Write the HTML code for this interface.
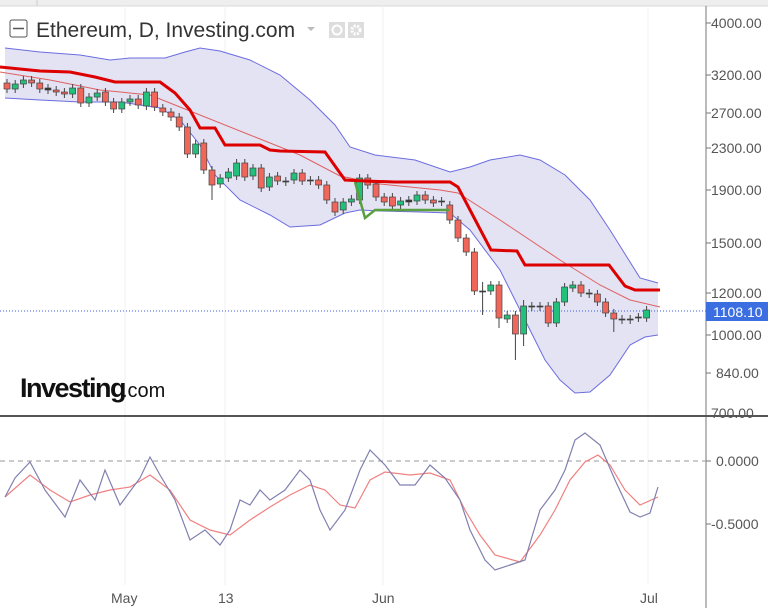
<!DOCTYPE html>
<html><head><meta charset="utf-8"><style>
body{margin:0;background:#fff;width:768px;height:608px;overflow:hidden;font-family:"Liberation Sans",sans-serif}
svg text{font-family:"Liberation Sans",sans-serif}
</style></head><body>
<svg id="s" width="768" height="608" viewBox="0 0 768 608" xmlns="http://www.w3.org/2000/svg">
<rect x="0" y="0" width="768" height="6" fill="#eeeeee"/>
<line x1="0" y1="6" x2="768" y2="6" stroke="#d8d8d8"/>
<line x1="37" y1="0" x2="37" y2="6" stroke="#ccc"/>
<g stroke="#f0f0f0">
<line x1="125" y1="6" x2="125" y2="585"/><line x1="225" y1="6" x2="225" y2="585"/>
<line x1="383" y1="6" x2="383" y2="585"/><line x1="648" y1="6" x2="648" y2="585"/>
</g>
<polygon id="band" fill="#e3e3f3" stroke="none"/>
<polyline id="up" fill="none" stroke="#6c6ce0" stroke-width="1"/>
<polyline id="lo" fill="none" stroke="#6c6ce0" stroke-width="1"/>
<polyline id="ma" fill="none" stroke="#e06060" stroke-width="1" points="0,72 50,80 100,90 150,95 200,115 250,135 300,155 340,176 380,184 440,190 458,193 500,220 560,260 600,285 630,300 660,307"/>
<line x1="0" y1="311" x2="706" y2="311" stroke="#3a5ee0" stroke-dasharray="1,2"/>
<g id="c"></g>
<polyline fill="none" stroke="#5aa040" stroke-width="2.5" points="355,182 365,218 375,210 400,210 449,210"/>
<polyline fill="none" stroke="#dd0000" stroke-width="3" points="0,67 40,71 70,72 95,77 115,82 160,82 175,93 190,110 200,128 215,128 225,145 260,145 270,150 280,151 325,152 345,180 365,181 395,182 450,182 458,187 491,250 517,251 525,265 609,265 625,286 635,290 660,290"/>
<rect x="10" y="20" width="17" height="17" fill="#fff" stroke="#555" rx="2"/>
<line x1="13" y1="28.5" x2="24" y2="28.5" stroke="#555" stroke-width="1.5"/>
<text x="36" y="37" font-size="21" fill="#333">Ethereum, D, Investing.com</text>
<polygon points="307,27 315,27 311,31" fill="#bbb"/>
<rect x="329" y="22" width="16" height="16" fill="#ddd"/><circle cx="337" cy="30" r="4.5" fill="none" stroke="#fff" stroke-width="2"/>
<rect x="348" y="22" width="16" height="16" fill="#ddd"/><circle cx="356" cy="30" r="4" fill="none" stroke="#fff" stroke-width="3" stroke-dasharray="2,1.3"/>
<text x="20" y="397" font-size="27" font-weight="bold" fill="#111" letter-spacing="-1.5">Investing</text>
<text x="122" y="397" font-size="20" fill="#111">.com</text>
<line x1="706" y1="6" x2="706" y2="608" stroke="#777"/>
<line x1="0" y1="416" x2="768" y2="416" stroke="#555" stroke-width="2"/>
<g font-size="14" fill="#555">
<text x="711" y="28">4000.00</text><text x="711" y="80">3200.00</text><text x="711" y="118">2700.00</text>
<text x="711" y="153">2300.00</text><text x="711" y="195">1900.00</text><text x="711" y="248">1500.00</text>
<text x="711" y="298">1200.00</text><text x="711" y="340">1000.00</text><text x="716" y="378">840.00</text>
<text x="711" y="418">700.00</text>
<text x="716" y="466">0.0000</text><text x="711" y="529">-0.5000</text>
<text x="111" y="603">May</text><text x="218" y="603">13</text><text x="372" y="603">Jun</text><text x="640" y="603">Jul</text>
</g>
<g stroke="#777"><line x1="706" y1="23" x2="711" y2="23"/><line x1="706" y1="75" x2="711" y2="75"/><line x1="706" y1="113" x2="711" y2="113"/><line x1="706" y1="148" x2="711" y2="148"/><line x1="706" y1="190" x2="711" y2="190"/><line x1="706" y1="243" x2="711" y2="243"/><line x1="706" y1="293" x2="711" y2="293"/><line x1="706" y1="335" x2="711" y2="335"/><line x1="706" y1="373" x2="711" y2="373"/><line x1="706" y1="461" x2="711" y2="461"/><line x1="706" y1="524" x2="711" y2="524"/></g>
<rect x="706" y="302" width="62" height="19" fill="#3b6ee0"/>
<text x="713" y="317" font-size="14" fill="#fff">1108.10</text>
<line x1="0" y1="461" x2="706" y2="461" stroke="#999" stroke-dasharray="5,4"/>
<polyline fill="none" stroke="#f08080" stroke-width="1.2" points="5,497 30,475 50,490 70,502 90,495 110,490 130,487 150,475 170,490 190,520 210,530 230,535 250,520 270,507 290,495 310,485 325,490 340,505 355,508 370,480 385,472 410,475 430,473 450,480 465,510 480,535 495,555 520,562 540,535 555,510 570,480 585,462 598,455 610,465 625,490 640,505 658,497"/>
<polyline fill="none" stroke="#8080b0" stroke-width="1.2" points="5,497 15,478 30,462 45,490 65,517 80,480 95,500 105,470 120,505 140,478 150,457 160,475 175,500 190,540 205,530 220,545 230,530 240,500 250,505 260,490 270,500 285,490 300,470 310,480 320,510 330,530 345,510 360,470 370,450 385,465 400,485 415,485 430,465 445,478 460,500 470,530 485,560 495,570 510,565 525,560 540,510 555,490 565,470 575,440 585,433 600,445 615,480 630,512 640,517 650,513 658,487"/>
</svg>
<script>
var up="5,48 40,52 80,55 110,60 130,58 165,58 185,52 200,48 220,51 250,60 280,75 310,100 335,125 350,147 375,155 415,160 450,172 470,167 490,160 520,155 540,160 565,175 590,200 610,230 640,278 658,283";
var lo="5,98 40,100 80,102 120,102 160,108 180,120 200,145 215,175 240,200 270,215 290,227 320,225 345,213 360,210 380,211 420,212 450,213 470,230 500,270 525,320 545,360 560,380 575,393 590,392 610,375 630,345 645,337 658,335";
document.getElementById('up').setAttribute('points',up);
document.getElementById('lo').setAttribute('points',lo);
document.getElementById('band').setAttribute('points',up+" "+lo.split(' ').reverse().join(' '));
var d=[[83,89,'r'],[84,89,'g'],[80,84,'g'],[80,83,'r'],[83,89,'r'],[88,90,'d'],[90,92,'r'],[92,94,'r'],[88,94,'g'],[88,103,'r'],[97,103,'g'],[93,97,'g'],[92,102,'r'],[102,109,'r'],[102,109,'g'],[99,102,'g'],[99,105,'r'],[92,106,'g'],[92,107,'r'],[108,112,'r'],[112,117,'r'],[117,127,'r'],[127,154,'r'],[144,154,'g'],[143,170,'r'],[170,185,'r'],[178,184,'g'],[172,178,'g'],[163,176,'g'],[163,177,'r'],[168,176,'g'],[168,188,'r'],[177,187,'g'],[176,181,'r'],[181,182,'d'],[173,180,'g'],[173,181,'r'],[180,181,'d'],[180,185,'r'],[185,200,'r'],[202,212,'r'],[202,210,'g'],[199,202,'g'],[178,200,'g'],[178,185,'r'],[184,197,'r'],[197,202,'r'],[197,206,'r'],[201,205,'g'],[200,202,'d'],[195,201,'g'],[195,200,'r'],[200,203,'r'],[201,202,'d'],[205,220,'r'],[220,238,'r'],[238,252,'r'],[252,291,'r'],[291,292,'d'],[285,291,'g'],[285,318,'r'],[315,319,'g'],[315,334,'r'],[306,334,'g'],[306,307,'d'],[306,307,'d'],[306,323,'r'],[302,323,'g'],[287,302,'g'],[285,288,'g'],[285,293,'r'],[293,294,'d'],[294,302,'r'],[302,313,'r'],[313,319,'r'],[319,320,'d'],[319,320,'d'],[317,318,'d'],[310,318,'g']];
var extra={22:[127,154],25:[170,200],57:[252,291],58:[282,315],60:[285,328],62:[315,360],63:[300,346],74:[313,332]};
var h='';
d.forEach(function(c,i){var x=7+i*8.2;var t=c[0],b=c[1];var ht=t-4,lb=b+4;if(extra[i]){ht=Math.min(ht,extra[i][0]);lb=Math.max(lb,extra[i][1]);}
var f=c[2]=='r'?'#f0665a':c[2]=='g'?'#22c07a':'#333';
h+='<line x1="'+x+'" y1="'+ht+'" x2="'+x+'" y2="'+lb+'" stroke="#444"/>';
h+='<rect x="'+(x-3)+'" y="'+t+'" width="6" height="'+Math.max(1,b-t)+'" fill="'+f+'" stroke="#444" stroke-width="0.7"/>';});
document.getElementById('c').innerHTML=h;
</script>
</body></html>
